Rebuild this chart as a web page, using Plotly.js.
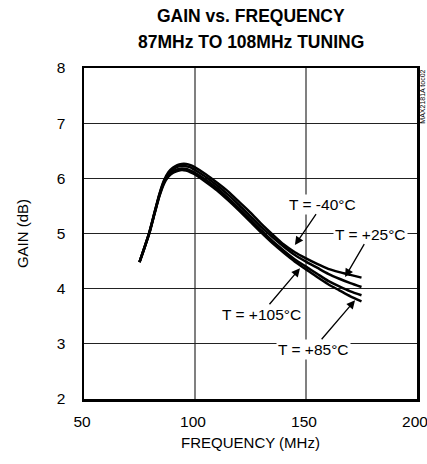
<!DOCTYPE html>
<html>
<head>
<meta charset="utf-8">
<script src="https://cdn.plot.ly/plotly-3.0.1.min.js"></script>
<style>html,body{margin:0;padding:0;background:#fff;}#chart{width:427px;height:464px;}</style>
</head>
<body>
<div id="chart"></div>
<script>
var freq = [75, 77, 79.5, 82, 84, 86, 88, 90, 92, 94, 96, 98, 100, 105, 110, 115, 120, 125, 130, 135, 140, 145, 150, 155, 160, 165, 170, 175];
var gainM40 = [4.48, 4.72, 5.03, 5.42, 5.72, 5.96, 6.11, 6.19, 6.24, 6.26, 6.26, 6.24, 6.20, 6.07, 5.92, 5.76, 5.57, 5.38, 5.17, 4.98, 4.80, 4.66, 4.55, 4.45, 4.36, 4.30, 4.25, 4.20];
var gainP25 = [4.48, 4.72, 5.03, 5.41, 5.71, 5.94, 6.08, 6.16, 6.21, 6.23, 6.22, 6.20, 6.15, 6.02, 5.87, 5.70, 5.51, 5.31, 5.11, 4.93, 4.76, 4.61, 4.49, 4.38, 4.27, 4.18, 4.10, 4.03];
var gainP105 = [4.48, 4.71, 5.02, 5.40, 5.69, 5.92, 6.05, 6.12, 6.16, 6.18, 6.17, 6.14, 6.10, 5.97, 5.82, 5.64, 5.45, 5.25, 5.05, 4.86, 4.69, 4.53, 4.40, 4.27, 4.14, 4.04, 3.95, 3.88];
var gainP85 = [4.48, 4.71, 5.01, 5.39, 5.68, 5.90, 6.03, 6.10, 6.13, 6.15, 6.14, 6.11, 6.07, 5.93, 5.78, 5.60, 5.41, 5.21, 5.01, 4.82, 4.65, 4.49, 4.35, 4.21, 4.08, 3.97, 3.86, 3.77];
var xTicks = [50, 100, 150, 200];
var yTicks = [2, 3, 4, 5, 6, 7, 8];
var labels = ["T = -40°C", "T = +25°C", "T = +105°C", "T = +85°C"];
var labelTipX = [145, 167.6, 147.3, 172.1];
var labelTipY = [4.79, 4.21, 4.37, 3.79];
var titleLines = ["GAIN vs. FREQUENCY", "87MHz TO 108MHz TUNING"];
var partNote = "MAX2181A toc02";

var FONT = "Liberation Sans, Arial, Helvetica, sans-serif";
var series = [gainM40, gainP25, gainP105, gainP85];
var traces = series.map(function (g) {
  return {x: freq, y: g, type: 'scatter', mode: 'lines', line: {color: '#000', width: 2.5, shape: 'spline', smoothing: 0.6}, hoverinfo: 'none'};
});
var offs = [[28, -41], [25, -43], [-39, 46], [-42, 49]];
var annotations = labels.map(function (t, i) {
  return {x: labelTipX[i], y: labelTipY[i], xref: 'x', yref: 'y', text: t, showarrow: true,
    ax: offs[i][0], ay: offs[i][1], arrowhead: 2, arrowsize: 1.3, arrowwidth: 1.3, arrowcolor: '#000',
    bgcolor: '#fff', borderpad: 1, font: {family: FONT, size: 15.5, color: '#000'}};
});
annotations.push({x: 1, y: 0.912, xref: 'paper', yref: 'paper', xanchor: 'left', yanchor: 'middle', xshift: 0,
  text: partNote, showarrow: false, textangle: -90, font: {family: FONT, size: 7, color: '#000'}});
var titleY = [1.157, 1.0785];
titleLines.forEach(function (t, i) {
  annotations.push({x: 0.5, y: titleY[i], xref: 'paper', yref: 'paper', xanchor: 'center', yanchor: 'middle',
    text: '<b>' + t + '</b>', showarrow: false, font: {family: FONT, size: 17.5, color: '#000'}});
});

var layout = {
  width: 427, height: 464,
  margin: {l: 84, r: 10, t: 68, b: 65},
  paper_bgcolor: '#fff', plot_bgcolor: '#fff',
  showlegend: false,
  xaxis: {range: [50, 200], tickvals: xTicks, ticktext: xTicks.map(String), showgrid: true, gridcolor: '#808080', gridwidth: 1.3,
    zeroline: false, showline: true, linecolor: '#000', linewidth: 2.5, mirror: true, ticks: '', ticklabelstandoff: 7,
    ticklabeloverflow: 'allow', ticklabelshift: -2,
    tickfont: {family: FONT, size: 15.5, color: '#000'},
    title: {text: 'FREQUENCY (MHz)', standoff: 9, font: {family: FONT, size: 15, color: '#000'}}},
  yaxis: {range: [2, 8], tickvals: yTicks, ticktext: yTicks.map(String), showgrid: true, gridcolor: '#222', gridwidth: 1,
    zeroline: false, showline: true, linecolor: '#000', linewidth: 2.5, mirror: true, ticks: '', ticklabelstandoff: 13,
    tickfont: {family: FONT, size: 15.5, color: '#000'},
    title: {text: 'GAIN (dB)', standoff: 25, font: {family: FONT, size: 15, color: '#000'}}},
  annotations: annotations
};
Plotly.newPlot('chart', traces, layout, {staticPlot: true, displayModeBar: false});
</script>
</body>
</html>
